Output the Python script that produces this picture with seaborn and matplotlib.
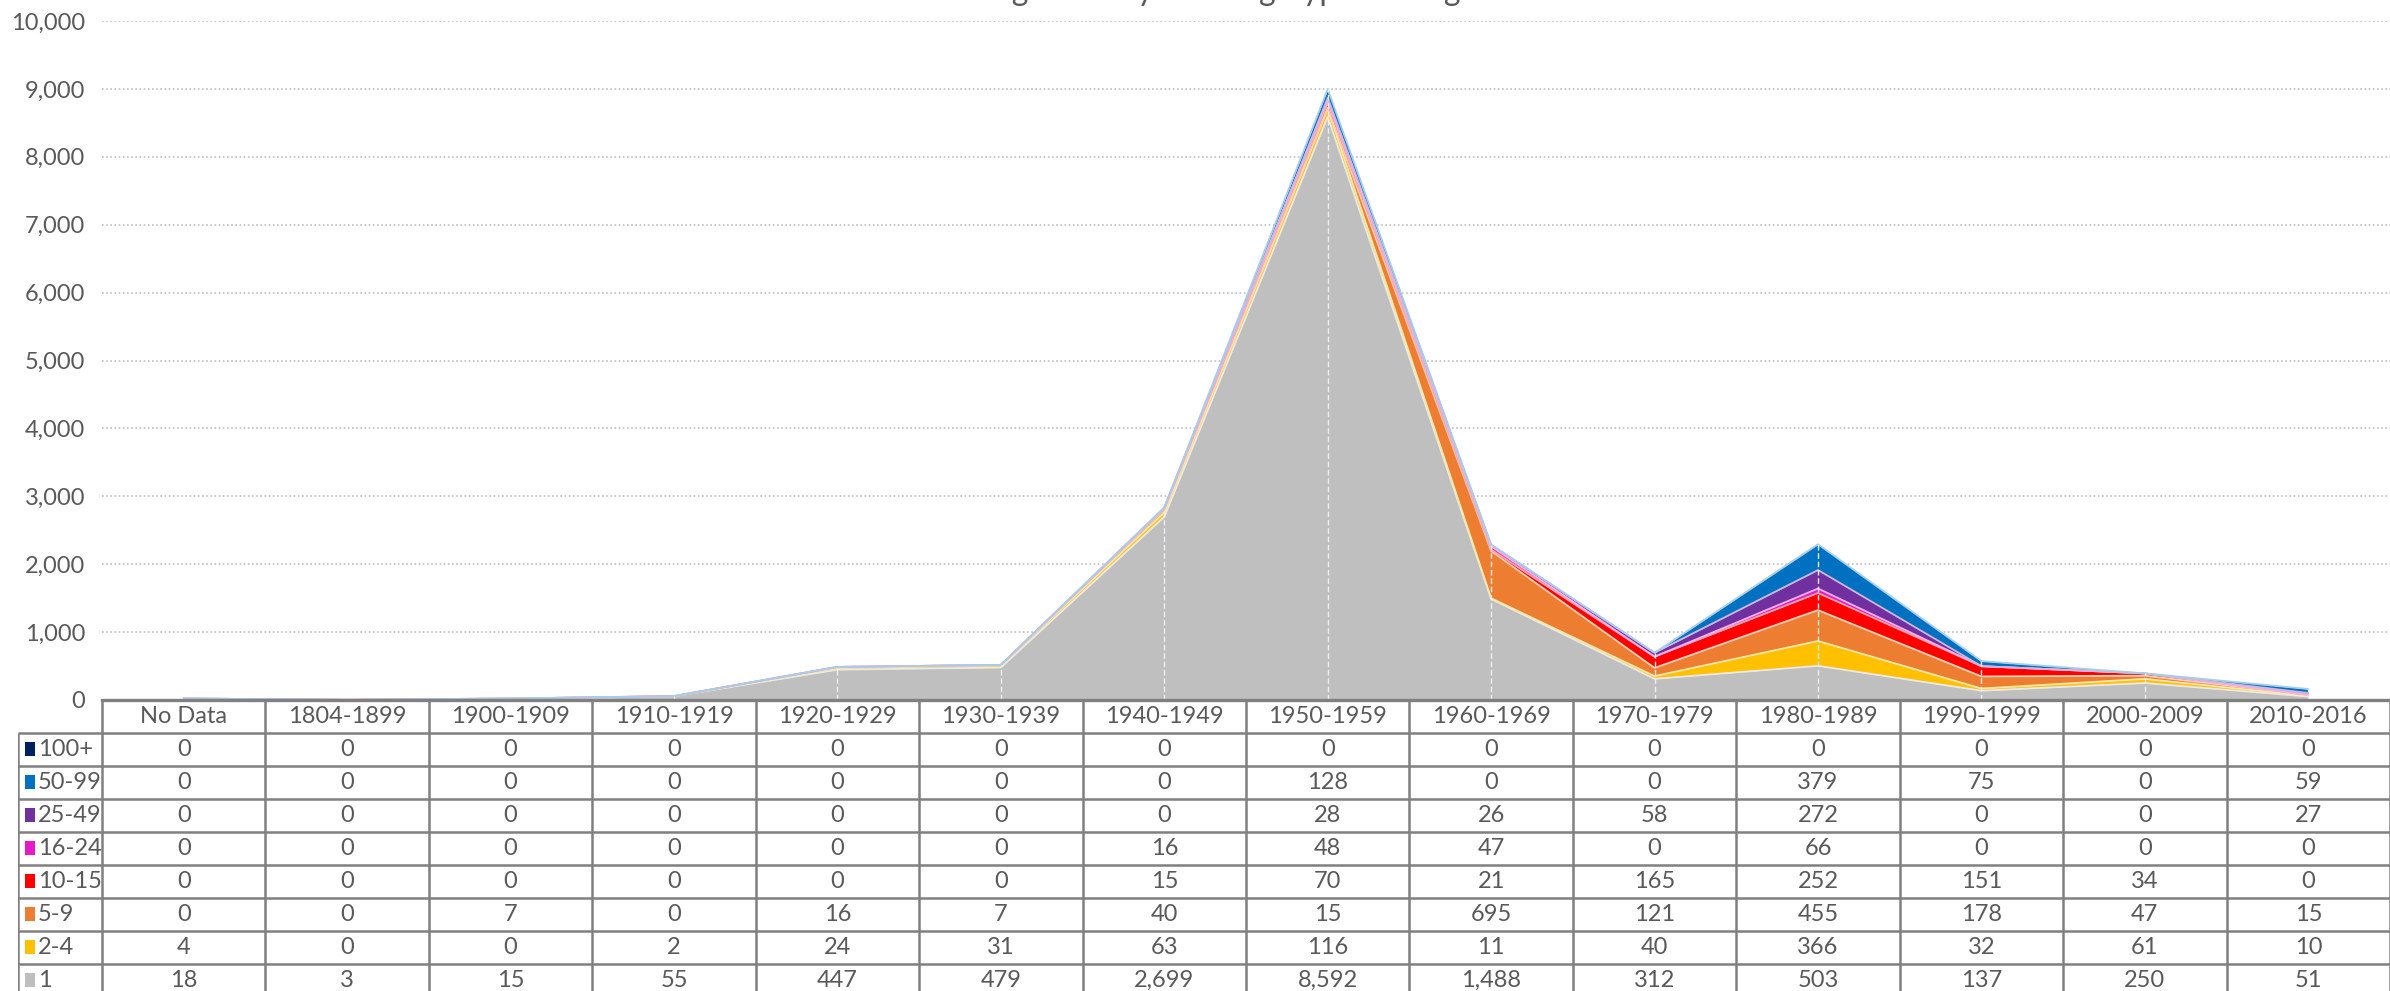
"""
Stacked area chart of housing units by building type and age,
with an Excel-style data table underneath.
"""

import numpy as np
import pandas as pd
import matplotlib
matplotlib.use("Agg")
import matplotlib.pyplot as plt
import matplotlib.colors as mcolors
from matplotlib.patches import Rectangle
import seaborn as sns

# ---- data -------------------------------------------------------------
periods = ["No Data", "1804-1899", "1900-1909", "1910-1919", "1920-1929",
           "1930-1939", "1940-1949", "1950-1959", "1960-1969", "1970-1979",
           "1980-1989", "1990-1999", "2000-2009", "2010-2016"]

units_1 = [18, 3, 15, 55, 447, 479, 2699, 8592, 1488, 312, 503, 137, 250, 51]
units_2_4 = [4, 0, 0, 2, 24, 31, 63, 116, 11, 40, 366, 32, 61, 10]
units_5_9 = [0, 0, 7, 0, 16, 7, 40, 15, 695, 121, 455, 178, 47, 15]
units_10_15 = [0, 0, 0, 0, 0, 0, 15, 70, 21, 165, 252, 151, 34, 0]
units_16_24 = [0, 0, 0, 0, 0, 0, 16, 48, 47, 0, 66, 0, 0, 0]
units_25_49 = [0, 0, 0, 0, 0, 0, 0, 28, 26, 58, 272, 0, 0, 27]
units_50_99 = [0, 0, 0, 0, 0, 0, 0, 128, 0, 0, 379, 75, 0, 59]
units_100p = [0, 0, 0, 0, 0, 0, 0, 0, 0, 0, 0, 0, 0, 0]

# bottom of the stack first
series_names = ["1", "2-4", "5-9", "10-15", "16-24", "25-49", "50-99", "100+"]
series_values = [units_1, units_2_4, units_5_9, units_10_15, units_16_24,
                 units_25_49, units_50_99, units_100p]
series_colors = ["#BFBFBF", "#FFC000", "#ED7D31", "#FF0000", "#E619CC",
                 "#7030A0", "#0070C0", "#002060"]

title = "Housing Units by Building Type and Age"

# ---- style ------------------------------------------------------------
sns.set_theme(style="white")
plt.rcParams["font.family"] = ["Lato", "DejaVu Sans"]
text_color = "#595959"
line_color = "#808080"
fs = 17

df = pd.DataFrame(dict(zip(series_names, series_values)), index=periods)
x = np.arange(len(periods))

W, H = 2390, 991
fig = plt.figure(figsize=(W / 100, H / 100), dpi=100)

left_px, axis_px, top_px = 102, 700, 21
ax = fig.add_axes([left_px / W, 1 - axis_px / H, 1 - left_px / W,
                   (axis_px - top_px) / H])

# stacked areas
base = np.zeros(len(periods))
for name, color in zip(series_names, series_colors):
    vals = df[name].to_numpy(dtype=float)
    ax.fill_between(x, base, base + vals, color=color, linewidth=0, zorder=2)
    if vals.any():
        edge = tuple(0.35 * c + 0.65 for c in mcolors.to_rgb(color))
        sns.lineplot(x=x, y=base + vals, ax=ax, color=edge, linewidth=1.3,
                     zorder=3, legend=False)
    base = base + vals

# drop lines
ax.vlines(x, 0, base, colors="#EDEDED", linewidth=1.0, linestyles=(0, (4, 2)),
          zorder=4)

ax.set_xlim(-0.5, len(periods) - 0.5)
ax.set_ylim(0, 10000)
ax.set_yticks(np.arange(0, 10001, 1000))
ax.set_yticklabels([f"{v:,}" for v in range(0, 10001, 1000)])
ax.tick_params(axis="y", length=0, pad=12, labelsize=fs, labelcolor=text_color)
ax.set_xticks([])
ax.yaxis.grid(True, linestyle=(0, (1, 1.5)), color="#BFBFBF", linewidth=1.2,
              zorder=0)
ax.xaxis.grid(False)
for side in ["left", "right", "top"]:
    ax.spines[side].set_visible(False)
ax.spines["bottom"].set_color(line_color)
ax.spines["bottom"].set_linewidth(2.4)
ax.spines["bottom"].set_zorder(5)
ax.set_facecolor("none")

fig.text(0.5, 1.0, title, ha="center", va="baseline", fontsize=23,
         color=text_color)

# ---- data table -------------------------------------------------------
col_w = (W - left_px) / len(periods)
label_w = (left_px - 18) / col_w
row_h_px = 33
n_rows = len(series_names) + 1
tax = fig.add_axes([18 / W, 1 - (axis_px + n_rows * row_h_px) / H,
                    1 - 18 / W, n_rows * row_h_px / H])
tax.set_xlim(-0.5 - label_w, len(periods) - 0.5)
tax.set_ylim(n_rows, 0)
tax.axis("off")

lw = 1.8
x0, x1 = -0.5 - label_w, len(periods) - 0.5
tax.hlines(0, -0.5, x1, color=line_color, linewidth=lw)
tax.hlines(np.arange(1, n_rows + 1), x0, x1, color=line_color, linewidth=lw)
tax.vlines(x0, 1, n_rows, color=line_color, linewidth=lw)
tax.vlines(np.arange(len(periods) + 1) - 0.5, 0, n_rows, color=line_color,
           linewidth=lw)

for j, p in enumerate(periods):
    tax.text(j, 0.5, p, ha="center", va="center", fontsize=fs,
             color=text_color)

px = 1 / col_w
table_order = list(zip(series_names, series_colors))[::-1]
for i, (name, color) in enumerate(table_order, start=1):
    tax.add_patch(Rectangle((x0 + 7 * px, i + 0.28), 10 * px, 0.42,
                            facecolor=color, edgecolor="none"))
    tax.text(x0 + 20 * px, i + 0.5, name, ha="left", va="center",
             fontsize=fs, color=text_color)
    for j, v in enumerate(df[name]):
        tax.text(j, i + 0.5, f"{v:,}", ha="center", va="center", fontsize=fs,
                 color=text_color)

fig.savefig("out.png", dpi=100)
